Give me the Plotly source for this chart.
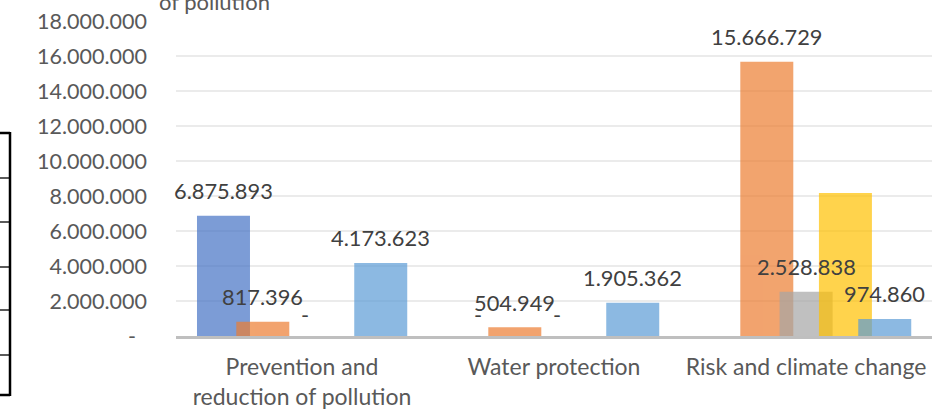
import plotly.graph_objects as go

# ---- data ----
categories = ["Prevention and<br>reduction of pollution", "Water protection", "Risk and climate change"]
series_names = ["Series 1", "Series 2", "Series 3", "Series 4", "Series 5"]
series_values = [
    [6875893, 0, None],            # dark blue
    [817396, 504949, 15666729],    # orange
    [0, 0, 2528838],               # gray
    [0, 0, 8170000],               # yellow (no data labels)
    [4173623, 1905362, 974860],    # light blue
]
series_labelled = [True, True, True, False, True]
y_tick_values = [0, 2000000, 4000000, 6000000, 8000000, 10000000, 12000000, 14000000, 16000000, 18000000]
y_tick_labels = ["-\u00a0\u00a0", "2.000.000", "4.000.000", "6.000.000", "8.000.000", "10.000.000",
                 "12.000.000", "14.000.000", "16.000.000", "18.000.000"]
title_fragment = "of pollution"

# ---- style ----
colors = ["#4472C4", "#ED7D31", "#A5A5A5", "#FFC000", "#5B9BD5"]
W, H = 932, 409
ML, MR, MT, MB = 176, 0, 21, 73
bar_width = 0.2103
bar_step = 0.156
first_offset = -0.4167
FONT = "Lato"


def fmt(v):
    if v == 0:
        return "-"
    return f"{v:,}".replace(",", ".")


fig = go.Figure()
xs = list(range(len(categories)))
annotations = []
for i, (name, vals) in enumerate(zip(series_names, series_values)):
    off = first_offset + i * bar_step
    fig.add_trace(go.Bar(
        x=xs, y=vals, name=name, offset=off, width=bar_width,
        marker=dict(color=colors[i], line=dict(width=0)), opacity=0.7,
        hoverinfo="skip",
    ))
    if series_labelled[i]:
        for xi, v in zip(xs, vals):
            if v is None:
                continue
            annotations.append(dict(
                x=xi + off + bar_width / 2, y=v, xref="x", yref="y",
                text=fmt(v), showarrow=False, yshift=22 if v == 0 else 25,
                xshift=3 if v == 0 else 0,
                font=dict(family=FONT, size=21.8, color="#404040"),
            ))

annotations.append(dict(
    x=(214 - ML) / (W - ML - MR), y=1 + (21 - 2) / (H - MT - MB), xref="paper", yref="paper",
    text=title_fragment, showarrow=False, xanchor="center", yanchor="middle",
    font=dict(family=FONT, size=22, color="#595959"),
))

# table border fragment at left edge (from the surrounding document)
plot_h = H - MT - MB
plot_w = W - ML - MR


def px_x(p):
    return (p - ML) / plot_w


def px_y(p):
    return (H - MB - p) / plot_h


table_rows = [133, 178, 222, 267, 310, 355, 395]
shapes = [dict(type="line", xref="paper", yref="paper", x0=px_x(10), x1=px_x(10),
               y0=px_y(132), y1=px_y(396), line=dict(color="#000000", width=2.5))]
for k, r in enumerate(table_rows):
    wdt = 2.5 if k in (0, len(table_rows) - 1) else 1.3
    shapes.append(dict(type="line", xref="paper", yref="paper", x0=px_x(-2), x1=px_x(10),
                       y0=px_y(r), y1=px_y(r), line=dict(color="#000000", width=wdt)))

fig.update_layout(
    width=W, height=H,
    margin=dict(l=ML, r=MR, t=MT, b=MB, autoexpand=False),
    barmode="overlay",
    showlegend=False,
    plot_bgcolor="white", paper_bgcolor="white",
    annotations=annotations,
    shapes=shapes,
    font=dict(family=FONT, color="#595959"),
    xaxis=dict(
        range=[-0.5, 2.5], tickvals=xs, ticktext=categories, automargin=False,
        showgrid=False, zeroline=False, showline=True, linecolor="#BFBFBF", linewidth=3,
        ticks="", tickfont=dict(family=FONT, size=23, color="#595959"),
        ticklabelstandoff=8, fixedrange=True,
    ),
    yaxis=dict(
        range=[0, 18000000], tickvals=y_tick_values, ticktext=y_tick_labels, automargin=False,
        showgrid=True, gridcolor="#EBEBEB", gridwidth=1.5, zeroline=False, showline=False,
        ticks="", tickfont=dict(family=FONT, size=21.5, color="#595959"),
        ticklabelstandoff=28, fixedrange=True,
    ),
)

fig.write_html(
    "out.html",
    config={"displayModeBar": False},
    post_script="document.body.style.margin='0';document.body.style.overflow='hidden';",
)
